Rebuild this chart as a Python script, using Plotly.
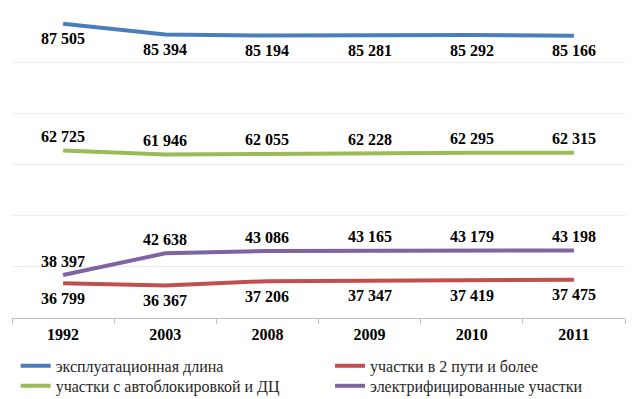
import plotly.graph_objects as go

years = ["1992", "2003", "2008", "2009", "2010", "2011"]
names = ["эксплуатационная длина", "участки в 2 пути и более",
         "участки с автоблокировкой и ДЦ", "электрифицированные участки"]
expl = [87505, 85394, 85194, 85281, 85292, 85166]
two_track = [36799, 36367, 37206, 37347, 37419, 37475]
autoblock = [62725, 61946, 62055, 62228, 62295, 62315]
electro = [38397, 42638, 43086, 43165, 43179, 43198]

series = [expl, two_track, autoblock, electro]
colors = ["#4A7EBB", "#C0504D", "#9BBB59", "#8064A2"]
label_shift = [-15, -15, 14, 14]
legend_ids = ["legend", "legend2", "legend3", "legend4"]
legend_pos = [(0.0122, 0.0847), (0.512, 0.0847), (0.0122, 0.0335), (0.512, 0.0335)]

SERIF = "Liberation Serif"

def fmt(v):
    return f"{v:,}".replace(",", " ")

fig = go.Figure()
for name, vals, col, shift, lid in zip(names, series, colors, label_shift, legend_ids):
    fig.add_trace(go.Scatter(
        x=years, y=vals, name=name, mode="lines",
        line=dict(color=col, width=4), legend=lid,
    ))
    for i, v in enumerate(vals):
        fig.add_annotation(x=i, y=v, xref="x", yref="y",
                           text="<b>" + fmt(v) + "</b>", showarrow=False,
                           yshift=shift, yanchor="middle",
                           font=dict(family=SERIF, size=16, color="#000000"))

legend_common = dict(
    orientation="h", xanchor="left", yanchor="middle",
    xref="container", yref="container",
    font=dict(family=SERIF, size=16, color="#262626"),
    itemwidth=30, bgcolor="rgba(0,0,0,0)",
)
legends = {}
for lid, (lx, ly) in zip(legend_ids, legend_pos):
    legends[lid] = dict(legend_common, x=lx, y=ly)

fig.update_layout(
    width=629, height=391,
    font=dict(family=SERIF),
    margin=dict(l=4, r=12, t=3, b=81, autoexpand=False),
    paper_bgcolor="white", plot_bgcolor="white",
    showlegend=True,
    xaxis=dict(
        type="category", range=[-0.5, 5.5],
        showline=True, linecolor="#BFBFBF", linewidth=1,
        ticks="outside", tickson="boundaries", ticklen=5, tickcolor="#BFBFBF",
        showgrid=False, ticklabelstandoff=2,
        tickvals=years, ticktext=["<b>" + y + "</b>" for y in years],
        tickfont=dict(family=SERIF, size=16, color="#000000"),
    ),
    yaxis=dict(
        range=[30000, 90000], dtick=10000, showticklabels=False,
        showgrid=True, gridcolor="#EBEBEB", zeroline=False,
    ),
    **legends,
)

fig.write_html("out.html")
